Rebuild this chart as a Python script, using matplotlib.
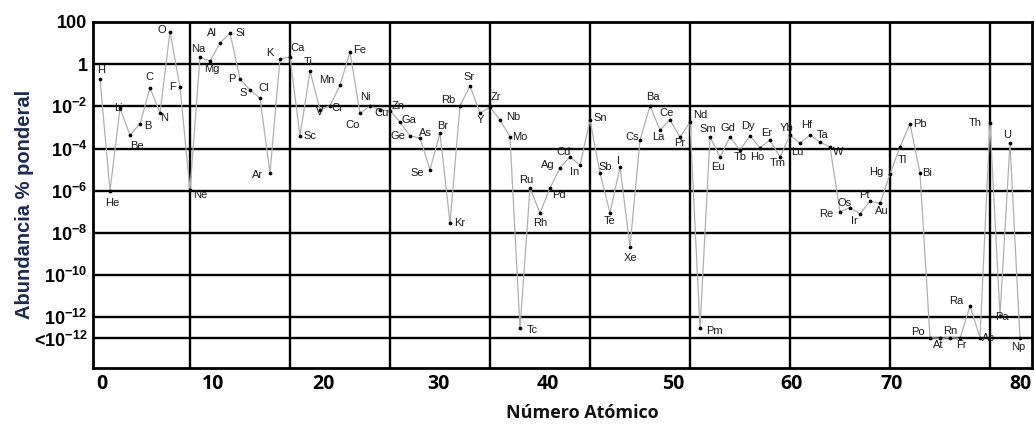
import numpy as np
import matplotlib
matplotlib.use('Agg')
import matplotlib.pyplot as plt

plt.rcParams['mathtext.fontset'] = 'custom'
plt.rcParams['mathtext.rm'] = 'Liberation Sans'
plt.rcParams['mathtext.bf'] = 'Liberation Sans:bold'

# elementos y abundancia (% en peso)
symbols = ['H', 'He', 'Li', 'Be', 'B', 'C', 'N', 'O', 'F', 'Ne',
           'Na', 'Mg', 'Al', 'Si', 'P', 'S', 'Cl', 'Ar', 'K', 'Ca',
           'Sc', 'Ti', 'V', 'Cr', 'Mn', 'Fe', 'Co', 'Ni', 'Cu', 'Zn',
           'Ga', 'Ge', 'As', 'Se', 'Br', 'Kr', 'Rb', 'Sr', 'Y', 'Zr',
           'Nb', 'Mo', 'Tc', 'Ru', 'Rh', 'Pd', 'Ag', 'Cd', 'In', 'Sn',
           'Sb', 'Te', 'I', 'Xe', 'Cs', 'Ba', 'La', 'Ce', 'Pr', 'Nd',
           'Pm', 'Sm', 'Eu', 'Gd', 'Tb', 'Dy', 'Ho', 'Er', 'Tm', 'Yb',
           'Lu', 'Hf', 'Ta', 'W', 'Re', 'Os', 'Ir', 'Pt', 'Au', 'Hg',
           'Tl', 'Pb', 'Bi', 'Po', 'At', 'Rn', 'Fr', 'Ra', 'Ac', 'Th',
           'Pa', 'U', 'Np']
atomic_number = list(range(1, 94))
abundance = [2.0e-1, 1.0e-6, 8.1e-3, 4.4e-4, 1.5e-3, 7.4e-2, 4.9e-3, 3.5e1, 8.3e-2, 1.1e-6,
             2.2e0, 1.4e0, 1.0e1, 3.0e1, 2.0e-1, 6.0e-2, 2.5e-2, 6.9e-6, 1.8e0, 2.2e0,
             4.0e-4, 4.8e-1, 6.8e-3, 1.1e-2, 1.0e-1, 3.8e0, 4.7e-3, 1.05e-2, 6.8e-3, 6.3e-3,
             1.8e-3, 4.0e-4, 3.2e-4, 1.0e-5, 5.4e-4, 3.0e-8, 1.05e-2, 9.3e-2, 4.7e-3, 9.3e-3,
             2.3e-3, 3.6e-4, 3.0e-13, 1.35e-6, 8.9e-8, 1.35e-6, 1.2e-5, 4.1e-5, 1.6e-5, 2.3e-3,
             6.9e-6, 8.9e-8, 1.35e-5, 2.2e-9, 2.5e-4, 1.05e-2, 7.6e-4, 2.3e-3, 3.5e-4, 1.8e-3,
             3.0e-13, 3.6e-4, 4.0e-5, 3.6e-4, 8.5e-5, 4.0e-4, 1.1e-4, 2.5e-4, 4.0e-5, 4.4e-4,
             1.8e-4, 4.4e-4, 2.0e-4, 1.2e-4, 1.0e-7, 1.6e-7, 8.0e-8, 3.2e-7, 2.5e-7, 6.3e-6,
             1.2e-4, 1.5e-3, 6.8e-6, 1.1e-13, 1.0e-13, 1.1e-13, 1.0e-13, 3.5e-12, 1.1e-13, 1.6e-3,
             1.2e-12, 1.8e-4, 1.0e-13]

ytick_values = [1e2, 1e0, 1e-2, 1e-4, 1e-6, 1e-8, 1e-10, 1e-12, 1e-13]
ytick_labels = ['100', '1', r'$\mathbf{10^{-2}}$', r'$\mathbf{10^{-4}}$', r'$\mathbf{10^{-6}}$',
                r'$\mathbf{10^{-8}}$', r'$\mathbf{10^{-10}}$', r'$\mathbf{10^{-12}}$',
                r'<$\mathbf{10^{-12}}$']
xtick_labels = ['0', '10', '20', '30', '40', '50', '60', '70', '80']
# las etiquetas del eje x van pegadas sobre la imagen, no coinciden con Z
xtick_pos = [1.2, 12.3, 23.3, 34.9, 45.8, 58.3, 70.2, 80.2, 93.0]
vgrid = [10, 20, 30, 40, 50, 60, 70, 80, 90]

# posicion de cada simbolo respecto a su punto (pixeles)
label_offsets = [(1, 9), (2, -12), (-2, 0), (7, -11), (8, -2), (-1, 11), (4, -5), (-8, 2), (-7, 0), (10, -5),
                 (-2, 8), (2, -8), (-8, 10), (10, 0), (-8, 0), (-7, -3), (4, 10), (-12, -2), (-10, 6), (8, 9),
                 (10, 0), (-2, 9), (0, -2), (7, -2), (-13, 5), (10, 2), (-7, -12), (-5, 9), (2, -3), (8, 5),
                 (9, 2), (-12, 0), (5, 5), (-13, -3), (3, 7), (10, 0), (-12, 6), (-1, 9), (0, -7), (6, 10),
                 (13, 3), (10, 0), (12, -2), (-4, 8), (0, -10), (9, -7), (-12, 3), (-6, 5), (-5, -7), (10, 2),
                 (5, 6), (0, -8), (-1, 6), (1, -11), (-8, 3), (3, 9), (-2, -7), (-3, 7), (0, -6), (10, 7),
                 (14, -3), (-2, 8), (-2, -10), (-2, 9), (0, -7), (-2, 10), (-3, -9), (-3, 7), (-2, -6), (-3, 7),
                 (-3, -9), (-3, 10), (3, 7), (8, -5), (-14, -2), (-5, 5), (-6, -7), (-6, 6), (2, -8), (-14, 2),
                 (2, -13), (10, 0), (7, 0), (-12, 6), (-2, -7), (0, 7), (1, -7), (-14, 5), (8, 0), (-15, 0),
                 (2, -1), (-3, 8), (-2, -9)]

fig = plt.figure(figsize=(10.35, 4.28), dpi=100)
ax = fig.add_axes([93 / 1035, 1 - 368 / 428, (1032 - 93) / 1035, (368 - 22) / 428])
ax.set_yscale('log')
ax.set_xlim(0.3, 94.2)
ax.set_ylim(10 ** -14.4, 100)

for y in ytick_values[1:]:
    ax.axhline(y, color='black', lw=1.7, zorder=2)
for x in vgrid:
    ax.axvline(x, color='black', lw=1.7, zorder=2)

ax.plot(atomic_number, abundance, color='#b0b0b0', lw=0.9, zorder=3)
ax.plot(atomic_number, abundance, 'o', ms=1.7, color='black', zorder=4)

for sym, z, a, off in zip(symbols, atomic_number, abundance, label_offsets):
    ax.annotate(sym, (z, a), xytext=off, textcoords='offset pixels',
                ha='center', va='center', fontsize=8, color='#1a1a1a',
                family='Liberation Sans', zorder=5)

ax.set_yticks(ytick_values)
ax.set_yticklabels(ytick_labels, fontsize=13, fontweight='bold', family='Liberation Sans')
ax.yaxis.set_minor_locator(matplotlib.ticker.NullLocator())
ax.set_xticks(xtick_pos)
ax.set_xticklabels(xtick_labels, fontsize=14, fontweight='bold', family='Open Sans')
ax.tick_params(axis='both', length=0)
ax.tick_params(axis='y', pad=4)
ax.tick_params(axis='x', pad=4)

for s in ax.spines.values():
    s.set_linewidth(2.0)

fig.text(25 / 1035, 1 - 204 / 428, 'Abundancia % ponderal', rotation=90,
         ha='center', va='center', fontsize=14.5, fontweight='bold',
         color='#1b2a4e', family='Liberation Sans')
fig.text(582 / 1035, 1 - 413 / 428, 'Número Atómico', ha='center', va='center',
         fontsize=13, fontweight='bold', color='#111111', family='Open Sans')

fig.savefig('out.png', dpi=100)
